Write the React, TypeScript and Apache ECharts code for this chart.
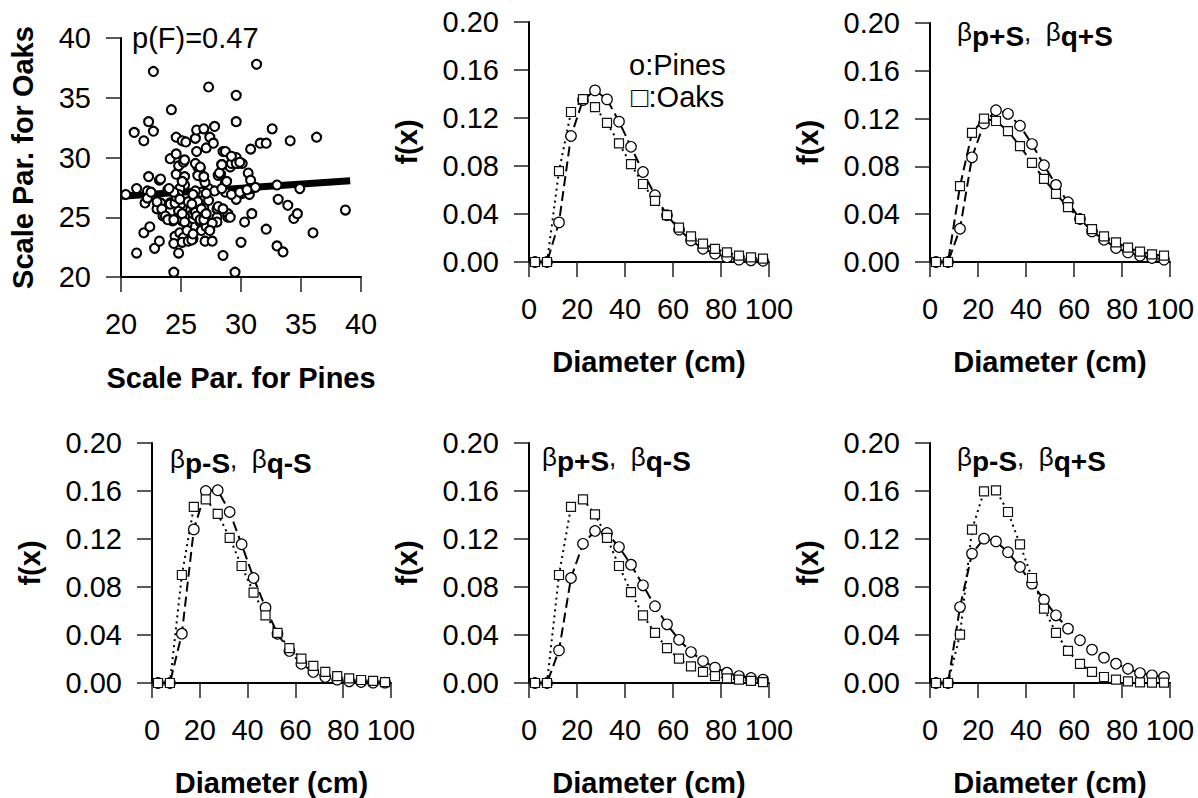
import React, { useEffect, useRef } from 'react';
import * as echarts from 'echarts';

const FONT = '"Liberation Sans", Arial, Helvetica, "DejaVu Sans", sans-serif';

// ---- scatter panel: scale parameters (pines, oaks) ----
const scaleParPairs: [number, number][] = [
  [20.4, 26.9], [21.3, 27.4], [21.1, 32.1], [21.3, 22.0], [21.9, 31.4], [22.3, 33.0], [22.7, 32.2], [22.7, 37.2],
  [22.3, 28.4], [22.2, 27.2], [22.0, 26.2], [22.2, 26.6], [22.5, 27.1], [21.9, 23.7], [22.4, 24.2], [22.8, 22.4],
  [23.2, 23.0], [23.2, 28.1], [23.0, 25.7], [23.3, 26.2], [23.5, 25.1], [23.9, 24.9], [23.9, 27.3], [24.1, 26.2],
  [24.2, 34.0], [24.1, 29.9], [24.3, 24.7], [24.4, 20.4], [24.6, 31.7], [24.8, 22.0], [24.5, 23.4], [24.4, 22.8],
  [24.6, 30.3], [24.6, 28.6], [24.8, 29.3], [25.1, 31.4], [25.2, 29.6], [25.4, 31.3], [25.3, 27.7], [24.9, 27.4],
  [24.8, 26.9], [25.0, 26.1], [24.8, 25.5], [24.6, 24.9], [25.1, 24.7], [24.9, 23.7], [25.2, 23.3], [25.1, 22.9],
  [25.5, 24.4], [25.6, 26.3], [25.8, 25.6], [25.6, 23.0], [26.0, 23.2], [26.0, 24.9], [26.0, 25.3], [26.2, 31.6],
  [26.3, 30.5], [26.3, 32.3], [26.6, 29.1], [26.7, 28.4], [26.9, 32.4], [27.1, 30.8], [26.4, 29.2], [26.5, 28.5],
  [26.7, 27.1], [26.2, 27.2], [26.0, 26.9], [26.4, 26.3], [26.9, 25.8], [26.9, 25.0], [27.1, 24.7], [26.6, 24.6],
  [26.7, 23.9], [27.0, 23.0], [27.1, 24.2], [27.3, 35.9], [27.3, 27.4], [27.4, 31.7], [27.7, 31.2], [27.6, 23.0],
  [27.8, 27.2], [28.0, 25.0], [28.0, 25.7], [27.8, 32.6], [28.1, 28.5], [28.3, 28.6], [28.5, 30.5], [28.4, 29.4],
  [28.7, 27.9], [28.7, 27.1], [28.9, 25.0], [28.9, 25.3], [28.5, 21.8], [29.1, 29.2], [29.2, 29.5], [29.6, 33.0],
  [29.6, 35.2], [29.6, 26.5], [29.6, 30.0], [29.8, 29.5], [29.5, 20.4], [30.0, 22.9], [30.1, 29.5], [30.1, 27.0],
  [30.3, 24.6], [30.6, 28.7], [30.8, 28.1], [30.8, 30.7], [30.9, 25.3], [30.7, 26.9], [30.8, 27.4], [31.2, 27.5],
  [31.3, 37.8], [31.6, 31.2], [32.1, 31.2], [32.1, 24.0], [32.6, 32.4], [33.0, 27.7], [33.1, 26.5], [33.0, 22.6],
  [33.5, 22.1], [33.9, 26.0], [34.1, 31.4], [34.4, 24.9], [34.7, 25.3], [34.9, 27.4], [36.0, 23.7], [36.3, 31.7],
  [38.7, 25.6], [23.3, 28.2], [23.0, 26.3], [23.4, 25.7], [23.7, 25.1], [23.9, 24.8], [24.1, 26.1], [24.4, 24.8],
  [24.5, 26.2], [24.6, 26.7], [24.9, 26.5], [25.1, 25.3], [25.3, 24.6], [25.5, 23.9], [25.9, 26.1], [26.2, 25.4],
  [26.3, 25.1], [26.6, 24.8], [25.9, 23.1], [26.0, 23.6], [26.7, 25.7], [26.9, 24.8], [27.1, 25.3], [27.3, 26.4],
  [27.1, 27.0], [27.0, 27.9], [26.4, 28.5], [26.2, 29.5], [26.6, 29.2], [26.9, 28.4], [28.1, 25.9], [28.5, 25.7],
  [29.1, 25.0], [28.0, 24.6], [27.6, 24.5], [27.4, 23.9], [28.4, 27.4], [28.8, 28.0], [29.2, 26.9], [29.9, 27.1],
  [30.5, 27.3], [28.2, 28.7], [28.4, 29.4], [28.7, 30.5], [29.2, 30.1], [29.6, 29.5], [29.9, 29.6], [25.3, 29.8],
  [25.3, 28.4], [25.1, 28.0], [24.4, 27.1], [24.0, 27.4],
];
const regressionX = [20, 39.1];
const regressionY = [26.75, 28.05];
const scaleTicks = { min: 20, max: 40, interval: 5 };

// ---- density panels ----
const diameters = [2.5, 7.5, 12.5, 17.5, 22.5, 27.5, 32.5, 37.5, 42.5, 47.5, 52.5, 57.5, 62.5, 67.5, 72.5, 77.5, 82.5, 87.5, 92.5, 97.5];

const pinesA = [0, 0, 0.033, 0.105, 0.135, 0.143, 0.1355, 0.117, 0.096, 0.075, 0.0556, 0.039, 0.027, 0.018, 0.011, 0.007, 0.004, 0.002, 0.0014, 0.001];
const oaksA = [0, 0, 0.0757, 0.125, 0.1357, 0.129, 0.116, 0.0988, 0.0815, 0.065, 0.051, 0.039, 0.0287, 0.0214, 0.0153, 0.011, 0.008, 0.0053, 0.0039, 0.0028];

const pinesB = [0, 0, 0.0278, 0.0876, 0.116, 0.127, 0.124, 0.114, 0.0987, 0.081, 0.0645, 0.05, 0.036, 0.0256, 0.0186, 0.0117, 0.008, 0.0053, 0.0033, 0.002];
const oaksB = [0, 0, 0.0635, 0.108, 0.12, 0.118, 0.1096, 0.097, 0.083, 0.0695, 0.057, 0.046, 0.036, 0.0275, 0.0214, 0.0164, 0.012, 0.0086, 0.0064, 0.0053];

const pinesC = [0, 0, 0.0411, 0.128, 0.16, 0.1606, 0.1425, 0.1156, 0.0875, 0.0628, 0.041, 0.0267, 0.016, 0.0092, 0.005, 0.0028, 0.0014, 0.0008, 0.0003, 0.0003];
const oaksC = [0, 0, 0.09, 0.1467, 0.153, 0.141, 0.121, 0.0975, 0.0753, 0.0564, 0.0417, 0.029, 0.0203, 0.0142, 0.0092, 0.0058, 0.0039, 0.0025, 0.0017, 0.0008];

const pinesD = [0, 0, 0.0272, 0.0875, 0.116, 0.1267, 0.125, 0.1133, 0.0986, 0.0814, 0.064, 0.0489, 0.036, 0.0258, 0.0183, 0.0128, 0.0086, 0.0058, 0.0042, 0.0028];
const oaksD = [0, 0, 0.09, 0.1467, 0.153, 0.1406, 0.121, 0.0975, 0.0758, 0.0564, 0.0417, 0.029, 0.0203, 0.0139, 0.0092, 0.0058, 0.0039, 0.0028, 0.0017, 0.0008];

const pinesE = [0, 0, 0.0633, 0.1078, 0.1203, 0.118, 0.109, 0.0967, 0.0828, 0.0694, 0.0564, 0.0453, 0.0356, 0.0278, 0.0211, 0.0161, 0.0119, 0.0083, 0.0064, 0.005];
const oaksE = [0, 0, 0.0403, 0.1278, 0.1597, 0.1606, 0.1425, 0.1156, 0.0875, 0.062, 0.0417, 0.0267, 0.016, 0.0092, 0.005, 0.0028, 0.0014, 0.0006, 0.0003, 0.0003];

const densityTicks = { min: 0, max: 0.2, interval: 0.04 };
const diameterTicks = { min: 0, max: 100, interval: 20 };

const panelTitles = [
  '',
  '{b|β}{s|p+S}{b|,  }{b|β}{s|q+S}',
  '{b|β}{s|p-S}{b|,  }{b|β}{s|q-S}',
  '{b|β}{s|p+S}{b|,  }{b|β}{s|q-S}',
  '{b|β}{s|p-S}{b|,  }{b|β}{s|q+S}',
];
const legendTexts = ['o:Pines', '□:Oaks'];
const scatterNote = 'p(F)=0.47';

// layout (pixels)
const grids = [
  { left: 121, top: 38, width: 240, height: 239 },
  { left: 529, top: 22, width: 240, height: 240 },
  { left: 930, top: 23, width: 240, height: 239 },
  { left: 152, top: 443, width: 239, height: 240 },
  { left: 529, top: 443, width: 240, height: 240 },
  { left: 930, top: 443, width: 240, height: 240 },
];
const titlePos = [
  { x: 957, y: 19 },
  { x: 170, y: 446 },
  { x: 542, y: 444 },
  { x: 957, y: 444 },
];

const axisCommon = {
  axisLine: { show: true, onZero: false, lineStyle: { color: '#000', width: 2 } },
  axisTick: { show: true, length: 15, lineStyle: { color: '#222', width: 1.5 } },
  splitLine: { show: false },
  nameLocation: 'middle' as const,
  nameTextStyle: { fontFamily: FONT, fontSize: 29, fontWeight: 'bold' as const, color: '#000' },
};

function xAxis(i: number, ticks: { min: number; max: number; interval: number }, name: string, gap: number) {
  return {
    ...axisCommon,
    type: 'value' as const,
    gridIndex: i,
    ...ticks,
    name,
    nameGap: gap,
    axisLabel: { fontFamily: FONT, fontSize: 29, color: '#000', margin: 32 },
  };
}
function yAxis(i: number, ticks: { min: number; max: number; interval: number }, name: string, gap: number, fmt?: (v: number) => string) {
  return {
    ...axisCommon,
    type: 'value' as const,
    gridIndex: i,
    ...ticks,
    name,
    nameGap: gap,
    axisLabel: { fontFamily: FONT, fontSize: 29, color: '#000', margin: 30, formatter: fmt },
  };
}

const zip = (xs: number[], ys: number[]) => xs.map((x, k) => [x, ys[k]]);

export default function App() {
  const ref = useRef<HTMLDivElement>(null);
  useEffect(() => {
    const chart = echarts.init(ref.current!, null, { renderer: 'svg' });
    const fmt2 = (v: number) => v.toFixed(2);
    const xAxes: any[] = [xAxis(0, scaleTicks, 'Scale Par. for Pines', 86)];
    const yAxes: any[] = [yAxis(0, scaleTicks, 'Scale Par. for Oaks', 84)];
    for (let i = 1; i < 6; i++) {
      xAxes.push(xAxis(i, diameterTicks, 'Diameter (cm)', 85));
      yAxes.push(yAxis(i, densityTicks, 'f(x)', 108, fmt2));
    }
    const panels = [
      { p: pinesA, o: oaksA, oDash: [2, 4] },
      { p: pinesB, o: oaksB, oDash: [10, 5] },
      { p: pinesC, o: oaksC, oDash: [2, 4] },
      { p: pinesD, o: oaksD, oDash: [2, 4] },
      { p: pinesE, o: oaksE, oDash: [2, 4] },
    ];
    const series: any[] = [
      {
        type: 'line', xAxisIndex: 0, yAxisIndex: 0, data: zip(regressionX, regressionY), symbol: 'none',
        lineStyle: { color: '#000', width: 7 }, z: 1, silent: true,
      },
      {
        type: 'scatter', xAxisIndex: 0, yAxisIndex: 0, data: scaleParPairs, symbol: 'circle', symbolSize: 9,
        itemStyle: { color: '#fff', borderColor: '#000', borderWidth: 2.1, opacity: 1 }, z: 2, silent: true,
      },
    ];
    panels.forEach((pn, k) => {
      const i = k + 1;
      series.push({
        type: 'line', xAxisIndex: i, yAxisIndex: i, data: zip(diameters, pn.p), symbol: 'none',
        lineStyle: { color: '#000', width: 2, type: [10, 5] }, z: 2, silent: true,
      });
      series.push({
        type: 'line', xAxisIndex: i, yAxisIndex: i, data: zip(diameters, pn.o), symbol: 'none',
        lineStyle: { color: '#000', width: 2, type: pn.oDash }, z: 2, silent: true,
      });
      series.push({
        type: 'scatter', xAxisIndex: i, yAxisIndex: i, data: zip(diameters, pn.p), symbol: 'circle', symbolSize: 10.5,
        itemStyle: { color: '#fff', borderColor: '#000', borderWidth: 1.2, opacity: 1 }, z: 3, silent: true,
      });
      series.push({
        type: 'scatter', xAxisIndex: i, yAxisIndex: i, data: zip(diameters, pn.o), symbol: 'rect', symbolSize: 9,
        itemStyle: { color: '#fff', borderColor: '#111', borderWidth: 1.2, opacity: 1 }, z: 4, silent: true,
      });
    });

    const rich = {
      b: { fontFamily: FONT, fontSize: 26, lineHeight: 26, verticalAlign: 'top', fill: '#000' },
      s: { fontFamily: FONT, fontSize: 28, fontWeight: 'bold', lineHeight: 31, verticalAlign: 'bottom', fill: '#000' },
    };
    const graphics: any[] = [
      { type: 'text', x: 132, y: 38, style: { text: scatterNote, fontFamily: FONT, fontSize: 29, fill: '#000', verticalAlign: 'middle' } },
      { type: 'text', x: 629, y: 65, style: { text: legendTexts[0], fontFamily: FONT, fontSize: 29, fill: '#000', verticalAlign: 'middle' } },
      { type: 'text', x: 631, y: 97, style: { text: legendTexts[1], fontFamily: FONT, fontSize: 29, fill: '#000', verticalAlign: 'middle' } },
    ];
    panelTitles.forEach((t, k) => {
      if (!t) return;
      const pos = titlePos[k - 1];
      graphics.push({ type: 'text', x: pos.x, y: pos.y, style: { text: t, rich, verticalAlign: 'top', align: 'left' } });
    });

    chart.setOption({
      animation: false,
      backgroundColor: '#fff',
      grid: grids.map((g) => ({ ...g, containLabel: false })),
      xAxis: xAxes,
      yAxis: yAxes,
      series,
      graphic: graphics,
    });
    return () => chart.dispose();
  }, []);
  return <div ref={ref} style={{ position: 'absolute', left: 0, top: 0, width: 1198, height: 798, background: '#fff' }} />;
}
